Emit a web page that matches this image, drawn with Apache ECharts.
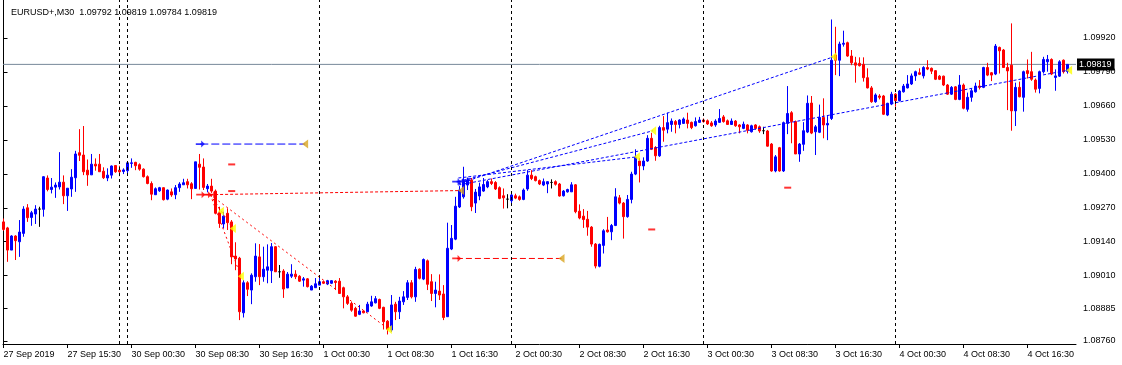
<!DOCTYPE html>
<html><head><meta charset="utf-8">
<script src="https://cdn.jsdelivr.net/npm/echarts/dist/echarts.min.js"></script>
<style>html,body{margin:0;padding:0;background:#fff}#c{width:1122px;height:365px}</style>
</head><body><div id="c"></div>
<script>
const symbolName = 'EURUSD+,M30';
// bar index 0 = 27 Sep 2019 07:30, one bar per 30 minutes (trading time)
const opens = [1.09216,1.09193,1.09108,1.09162,1.09140,1.09172,1.09270,1.09233,1.09246,1.09265,1.09264,1.09384,1.09340,1.09349,1.09350,1.09368,1.09316,1.09342,1.09385,1.09481,
1.09472,1.09414,1.09396,1.09437,1.09437,1.09410,1.09384,1.09395,1.09432,1.09414,1.09409,1.09412,1.09440,1.09444,1.09435,1.09418,1.09389,1.09363,1.09320,1.09335,
1.09347,1.09303,1.09331,1.09320,1.09347,1.09358,1.09370,1.09362,1.09344,1.09437,1.09426,1.09343,1.09353,1.09334,1.09251,1.09208,1.09249,1.09216,1.09085,1.09077,
1.08868,1.08983,1.08955,1.09006,1.09082,1.09006,1.09031,1.09029,1.09121,1.09025,1.09028,1.08963,1.09008,1.09016,1.09008,1.08993,1.08998,1.08955,1.08964,1.08974,
1.08987,1.08978,1.08981,1.08989,1.08989,1.08964,1.08929,1.08904,1.08885,1.08862,1.08875,1.08872,1.08894,1.08906,1.08919,1.08889,1.08836,1.08802,1.08901,1.08872,
1.08910,1.08927,1.08983,1.08929,1.09035,1.08997,1.09067,1.08987,1.08942,1.08951,1.08940,1.08853,1.09112,1.09150,1.09273,1.09312,1.09357,1.09376,1.09288,1.09315,
1.09334,1.09350,1.09370,1.09367,1.09347,1.09316,1.09303,1.09297,1.09316,1.09312,1.09302,1.09342,1.09395,1.09389,1.09374,1.09357,1.09361,1.09367,1.09370,1.09361,
1.09316,1.09331,1.09331,1.09358,1.09257,1.09238,1.09226,1.09196,1.09131,1.09046,1.09126,1.09185,1.09178,1.09202,1.09308,1.09288,1.09236,1.09302,1.09399,1.09449,
1.09430,1.09449,1.09536,1.09501,1.09469,1.09577,1.09571,1.09589,1.09600,1.09589,1.09593,1.09606,1.09597,1.09584,1.09597,1.09606,1.09603,1.09595,1.09587,1.09597,
1.09618,1.09603,1.09589,1.09602,1.09587,1.09574,1.09587,1.09561,1.09587,1.09580,1.09565,1.09564,1.09514,1.09411,1.09500,1.09411,1.09593,1.09634,1.09600,1.09476,
1.09513,1.09560,1.09671,1.09561,1.09559,1.09616,1.09587,1.09612,1.09855,1.09835,1.09896,1.09902,1.09851,1.09825,1.09823,1.09819,1.09768,1.09729,1.09676,1.09698,
1.09698,1.09625,1.09667,1.09705,1.09680,1.09714,1.09729,1.09744,1.09775,1.09787,1.09775,1.09807,1.09804,1.09795,1.09774,1.09774,1.09740,1.09705,1.09733,1.09685,
1.09740,1.09647,1.09693,1.09714,1.09736,1.09731,1.09807,1.09787,1.09782,1.09884,1.09874,1.09807,1.09816,1.09641,1.09731,1.09693,1.09795,1.09791,1.09759,1.09727,
1.09791,1.09829,1.09838,1.09769,1.09774,1.09835,1.09792];
const highs = [1.09229,1.09197,1.09165,1.09165,1.09223,1.09276,1.09284,1.09258,1.09280,1.09274,1.09391,1.09394,1.09384,1.09367,1.09483,1.09394,1.09345,1.09418,1.09488,1.09571,
1.09583,1.09455,1.09476,1.09459,1.09476,1.09425,1.09421,1.09432,1.09432,1.09431,1.09421,1.09449,1.09459,1.09446,1.09440,1.09421,1.09394,1.09371,1.09348,1.09350,
1.09348,1.09340,1.09344,1.09357,1.09368,1.09381,1.09381,1.09368,1.09446,1.09476,1.09459,1.09361,1.09381,1.09340,1.09274,1.09255,1.09268,1.09223,1.09138,1.09082,
1.08993,1.08989,1.09019,1.09134,1.09131,1.09121,1.09130,1.09135,1.09123,1.09051,1.09035,1.09024,1.09054,1.09031,1.09012,1.09005,1.09001,1.08974,1.09001,1.09001,
1.08991,1.08994,1.08993,1.08993,1.09001,1.08968,1.08936,1.08910,1.08891,1.08898,1.08878,1.08910,1.08933,1.08932,1.08922,1.08891,1.08840,1.08936,1.08910,1.08929,
1.08951,1.08993,1.08993,1.09044,1.09038,1.09076,1.09072,1.09016,1.08987,1.09015,1.08974,1.09213,1.09204,1.09312,1.09353,1.09427,1.09384,1.09384,1.09342,1.09366,
1.09384,1.09376,1.09382,1.09372,1.09352,1.09344,1.09322,1.09325,1.09324,1.09317,1.09344,1.09414,1.09414,1.09393,1.09378,1.09382,1.09372,1.09379,1.09375,1.09365,
1.09338,1.09343,1.09368,1.09361,1.09283,1.09265,1.09258,1.09200,1.09135,1.09133,1.09188,1.09235,1.09208,1.09345,1.09319,1.09292,1.09319,1.09408,1.09494,1.09460,
1.09463,1.09548,1.09557,1.09506,1.09584,1.09621,1.09634,1.09612,1.09606,1.09609,1.09616,1.09634,1.09600,1.09616,1.09618,1.09612,1.09608,1.09602,1.09609,1.09648,
1.09625,1.09608,1.09612,1.09606,1.09590,1.09600,1.09590,1.09588,1.09590,1.09585,1.09580,1.09568,1.09518,1.09472,1.09503,1.09600,1.09736,1.09640,1.09604,1.09518,
1.09598,1.09700,1.09698,1.09587,1.09665,1.09689,1.09621,1.09991,1.09963,1.09906,1.09948,1.09906,1.09874,1.09848,1.09846,1.09846,1.09804,1.09736,1.09708,1.09705,
1.09702,1.09672,1.09714,1.09709,1.09721,1.09744,1.09778,1.09784,1.09795,1.09804,1.09812,1.09835,1.09807,1.09797,1.09778,1.09776,1.09744,1.09736,1.09736,1.09778,
1.09746,1.09711,1.09727,1.09749,1.09759,1.09810,1.09825,1.09790,1.09897,1.09887,1.09878,1.09825,1.09976,1.09749,1.09753,1.09795,1.09838,1.09867,1.09765,1.09795,
1.09848,1.09855,1.09842,1.09800,1.09835,1.09838,1.09819];
const lows = [1.09182,1.09063,1.09108,1.09070,1.09082,1.09159,1.09216,1.09201,1.09208,1.09197,1.09236,1.09333,1.09325,1.09308,1.09340,1.09284,1.09258,1.09312,1.09331,1.09449,
1.09395,1.09354,1.09396,1.09412,1.09408,1.09380,1.09372,1.09382,1.09404,1.09391,1.09399,1.09395,1.09423,1.09414,1.09412,1.09386,1.09360,1.09299,1.09319,1.09331,
1.09298,1.09299,1.09312,1.09303,1.09331,1.09358,1.09344,1.09303,1.09344,1.09340,1.09338,1.09329,1.09327,1.09245,1.09193,1.09191,1.09185,1.09054,1.09031,1.08840,
1.08850,1.08932,1.08901,1.08987,1.08974,1.08987,1.08981,1.08982,1.09024,1.09002,1.08925,1.08963,1.09001,1.08997,1.08986,1.08968,1.08965,1.08955,1.08963,1.08973,
1.08978,1.08974,1.08978,1.08955,1.08940,1.08885,1.08898,1.08872,1.08853,1.08859,1.08866,1.08870,1.08891,1.08904,1.08882,1.08804,1.08785,1.08795,1.08840,1.08844,
1.08898,1.08917,1.08923,1.08910,1.08996,1.08993,1.08955,1.08913,1.08889,1.08917,1.08840,1.08853,1.09108,1.09146,1.09269,1.09305,1.09338,1.09257,1.09250,1.09299,
1.09331,1.09345,1.09357,1.09338,1.09303,1.09267,1.09268,1.09284,1.09303,1.09297,1.09299,1.09335,1.09376,1.09371,1.09357,1.09353,1.09326,1.09344,1.09355,1.09313,
1.09313,1.09328,1.09331,1.09249,1.09226,1.09193,1.09163,1.09121,1.09038,1.09042,1.09095,1.09175,1.09146,1.09200,1.09283,1.09152,1.09232,1.09287,1.09395,1.09367,
1.09414,1.09446,1.09491,1.09450,1.09465,1.09523,1.09555,1.09561,1.09555,1.09574,1.09591,1.09574,1.09571,1.09581,1.09595,1.09596,1.09587,1.09580,1.09580,1.09595,
1.09596,1.09587,1.09587,1.09580,1.09555,1.09571,1.09555,1.09558,1.09569,1.09557,1.09552,1.09504,1.09408,1.09406,1.09408,1.09407,1.09552,1.09517,1.09476,1.09446,
1.09488,1.09556,1.09552,1.09472,1.09556,1.09536,1.09529,1.09606,1.09778,1.09774,1.09887,1.09848,1.09816,1.09749,1.09811,1.09753,1.09727,1.09672,1.09672,1.09685,
1.09625,1.09621,1.09663,1.09657,1.09677,1.09711,1.09727,1.09740,1.09756,1.09778,1.09765,1.09797,1.09782,1.09759,1.09759,1.09736,1.09702,1.09702,1.09682,1.09682,
1.09647,1.09638,1.09676,1.09711,1.09723,1.09728,1.09774,1.09755,1.09778,1.09784,1.09807,1.09644,1.09565,1.09583,1.09693,1.09638,1.09765,1.09756,1.09711,1.09708,
1.09784,1.09791,1.09778,1.09718,1.09771,1.09784,1.09784];
const closes = [1.09187,1.09108,1.09162,1.09144,1.09177,1.09265,1.09232,1.09251,1.09265,1.09265,1.09389,1.09340,1.09349,1.09357,1.09368,1.09316,1.09345,1.09387,1.09476,1.09471,
1.09408,1.09396,1.09437,1.09430,1.09408,1.09385,1.09395,1.09430,1.09408,1.09408,1.09415,1.09442,1.09442,1.09431,1.09418,1.09389,1.09363,1.09322,1.09343,1.09347,
1.09301,1.09338,1.09319,1.09347,1.09361,1.09366,1.09358,1.09343,1.09446,1.09425,1.09348,1.09353,1.09334,1.09249,1.09210,1.09238,1.09213,1.09082,1.09074,1.08872,
1.08983,1.08958,1.09012,1.09085,1.09006,1.09035,1.09044,1.09121,1.09025,1.09025,1.08959,1.09016,1.09016,1.09006,1.08989,1.08998,1.08968,1.08970,1.08979,1.08987,
1.08981,1.08991,1.08991,1.08984,1.08942,1.08929,1.08904,1.08878,1.08855,1.08875,1.08868,1.08901,1.08910,1.08922,1.08885,1.08834,1.08804,1.08898,1.08872,1.08913,
1.08929,1.08983,1.08929,1.09034,1.09000,1.09072,1.08977,1.08942,1.08955,1.08936,1.08850,1.09115,1.09153,1.09276,1.09338,1.09370,1.09376,1.09274,1.09330,1.09350,
1.09359,1.09370,1.09363,1.09342,1.09306,1.09308,1.09303,1.09319,1.09307,1.09302,1.09338,1.09395,1.09382,1.09374,1.09361,1.09370,1.09370,1.09367,1.09360,1.09315,
1.09334,1.09340,1.09358,1.09255,1.09231,1.09225,1.09196,1.09131,1.09047,1.09130,1.09182,1.09178,1.09202,1.09312,1.09288,1.09236,1.09302,1.09399,1.09463,1.09431,
1.09449,1.09536,1.09494,1.09469,1.09577,1.09567,1.09596,1.09602,1.09589,1.09606,1.09610,1.09593,1.09577,1.09600,1.09606,1.09600,1.09591,1.09584,1.09602,1.09612,
1.09600,1.09589,1.09602,1.09584,1.09580,1.09590,1.09567,1.09584,1.09574,1.09564,1.09565,1.09506,1.09411,1.09465,1.09411,1.09596,1.09631,1.09600,1.09476,1.09514,
1.09565,1.09670,1.09556,1.09580,1.09616,1.09587,1.09593,1.09835,1.09835,1.09897,1.09900,1.09851,1.09825,1.09816,1.09814,1.09768,1.09729,1.09676,1.09702,1.09693,
1.09628,1.09670,1.09705,1.09680,1.09717,1.09736,1.09744,1.09775,1.09791,1.09781,1.09807,1.09801,1.09793,1.09762,1.09762,1.09740,1.09705,1.09731,1.09685,1.09740,
1.09651,1.09693,1.09718,1.09736,1.09731,1.09807,1.09778,1.09778,1.09889,1.09871,1.09807,1.09794,1.09641,1.09731,1.09695,1.09791,1.09784,1.09762,1.09724,1.09791,
1.09838,1.09838,1.09782,1.09775,1.09829,1.09791,1.09819];

const tickLabels = ['27 Sep 2019','27 Sep 15:30','30 Sep 00:30','30 Sep 08:30','30 Sep 16:30','1 Oct 00:30','1 Oct 08:30','1 Oct 16:30','2 Oct 00:30','2 Oct 08:30','2 Oct 16:30','3 Oct 00:30','3 Oct 08:30','3 Oct 16:30','4 Oct 00:30','4 Oct 08:30','4 Oct 16:30'];
const tickBars = [0,16,32,48,64,80,96,112,128,144,160,176,192,208,224,240,256];
const priceTicks = [1.08760,1.08885,1.09010,1.09140,1.09270,1.09400,1.09530,1.09660,1.09790,1.09920];
const separatorBars = [29,31,79,127,175,223];
const bidPrice = 1.09819;

// trade objects: [barFrom, priceFrom, barTo, priceTo]
const buyLevelLines  = [[49.2,1.09514,75.4,1.09514]];
const sellLevelLines = [[113.35,1.09076,139.5,1.09076]];
const sellLongLine   = [[50.4,1.09320,114.4,1.09336]];
const sellPaths = [[51.7,1.09320,54.35,1.09257],[51.7,1.09320,57.35,1.09191],[51.7,1.09320,59.35,1.09008],[51.7,1.09320,96.35,1.08804]];
const buyPaths  = [[113.7,1.09361,207.5,1.09848],[113.7,1.09370,162.4,1.09565],[113.7,1.09384,158.35,1.09465],[113.7,1.09357,266.25,1.09797]];
const closeMarksYellow = [[54.35,1.09257],[57.35,1.09191],[59.35,1.09008],[96.35,1.08804],[158.35,1.09465],[162.4,1.09565],[207.5,1.09848],[266.4,1.09797]];
const closeMarksGold   = [[75.4,1.09514],[114.4,1.09336],[139.5,1.09076]];
const buyArrows  = [[49.2,1.09514],[113.3,1.09370],[114.4,1.09370],[115.6,1.09375]];
const sellArrows = [[49.3,1.09320],[50.9,1.09320],[52.2,1.09320],[113.3,1.09076]];
const stopMarks  = [[57.05,1.09436],[57.05,1.09334],[162.05,1.09187],[196.05,1.09347]];

const FONT = '"Liberation Sans", Arial, sans-serif';
const X_MIN = -0.125, X_MAX = 268.125, Y_MIN = 1.087485, Y_MAX = 1.100655;
const candleData = opens.map((o, i) => {
  const row = [i, o, closes[i], lows[i], highs[i]];
  if (o === closes[i]) return { value: row, itemStyle: { color: '#000', borderColor: '#000', color0: '#000', borderColor0: '#000' } };
  return row;
});

function segSeries(list, color, dash) {
  return list.map(s => ({
    type: 'line', data: [[s[0], s[1]], [s[2], s[3]]], showSymbol: false, symbol: 'none', silent: true,
    lineStyle: { color: color, width: 1, type: dash }, z: 3, animation: false
  }));
}
const arrowPath = 'path://M0,3 L6,3 L6,0 L10,4 L6,8 L6,5 L0,5 Z';
const last = opens.length - 1;
const titleText = symbolName + '  ' + opens[last].toFixed(5) + ' ' + highs[last].toFixed(5) + ' ' + lows[last].toFixed(5) + ' ' + closes[last].toFixed(5);

const chart = echarts.init(document.getElementById('c'), null, { renderer: 'canvas' });
chart.setOption({
  animation: false,
  backgroundColor: '#fff',
  title: { text: titleText, left: 6, top: 3, textStyle: { fontSize: 9, fontWeight: 'normal', color: '#000', fontFamily: FONT } },
  grid: { left: 3, right: 46, top: 0, bottom: 21, show: false },
  xAxis: {
    type: 'value', min: X_MIN, max: X_MAX,
    splitLine: { show: false },
    axisLine: { show: true, lineStyle: { color: '#000', width: 1 } },
    axisTick: { show: true, customValues: tickBars, length: 4, inside: false, lineStyle: { color: '#000' } },
    axisLabel: { customValues: tickBars, formatter: v => tickLabels[Math.round(v / 16)], align: 'left', margin: 6, fontSize: 9, color: '#000', fontFamily: FONT }
  },
  yAxis: [{
    type: 'value', position: 'right', min: Y_MIN, max: Y_MAX, scale: true,
    splitLine: { show: false },
    axisLine: { show: true, lineStyle: { color: '#000', width: 1 } },
    axisTick: { show: true, customValues: priceTicks, length: 4, inside: false, lineStyle: { color: '#000' } },
    axisLabel: { customValues: priceTicks, formatter: v => v.toFixed(5), margin: 7, fontSize: 9, color: '#000', fontFamily: FONT }
  }, {
    type: 'value', position: 'left', min: Y_MIN, max: Y_MAX, scale: true,
    splitLine: { show: false },
    axisLine: { show: true, lineStyle: { color: '#000', width: 1 } },
    axisTick: { show: false }, axisLabel: { show: false }
  }],
  series: [
    {
      type: 'line', data: [[X_MIN, bidPrice], [X_MAX, bidPrice]], symbol: 'none', showSymbol: false, silent: true, z: 1,
      lineStyle: { color: '#778899', width: 1, type: 'solid' },
      endLabel: { show: true, formatter: bidPrice.toFixed(5), distance: 1, color: '#fff', backgroundColor: '#000', padding: [2, 3, 1, 2], fontSize: 9, fontFamily: FONT }
    },
    {
      type: 'candlestick', dimensions: ['bar', 'open', 'close', 'lowest', 'highest'],
      encode: { x: 'bar', y: ['open', 'close', 'lowest', 'highest'] },
      data: candleData, barWidth: 2,
      itemStyle: { color: '#0000ff', color0: '#ff0000', borderColor: '#0000ff', borderColor0: '#ff0000', borderWidth: 1 },
      z: 2,
      markLine: {
        silent: true, symbol: ['none', 'none'], animation: false,
        data: separatorBars.map(b => ({ xAxis: b, lineStyle: { color: '#000', type: [3, 3], width: 1 }, label: { show: false } }))
      }
    },
    ...segSeries(buyLevelLines, '#0000ff', [8, 3]),
    ...segSeries(sellLevelLines, '#ff0000', [6, 3]),
    ...segSeries(sellLongLine, '#ff0000', [3, 2]),
    ...segSeries(sellPaths, '#ff0000', [2, 3]),
    ...segSeries(buyPaths, '#0000ff', [3, 2]),
    { type: 'scatter', data: closeMarksYellow, symbol: 'triangle', symbolRotate: 90, symbolSize: [9, 6], itemStyle: { color: '#ffff00' }, z: 5, silent: true },
    { type: 'scatter', data: closeMarksGold, symbol: 'triangle', symbolRotate: 90, symbolSize: [9, 6], itemStyle: { color: '#daa520' }, z: 5, silent: true },
    { type: 'scatter', data: buyArrows, symbol: arrowPath, symbolSize: [9, 7], itemStyle: { color: '#0000ff' }, z: 5, silent: true },
    { type: 'scatter', data: sellArrows, symbol: arrowPath, symbolSize: [9, 7], itemStyle: { color: '#ff0000' }, z: 5, silent: true },
    { type: 'scatter', data: stopMarks, symbol: 'rect', symbolSize: [7, 2], itemStyle: { color: '#ff0000' }, z: 5, silent: true }
  ]
});
</script>
</body></html>
